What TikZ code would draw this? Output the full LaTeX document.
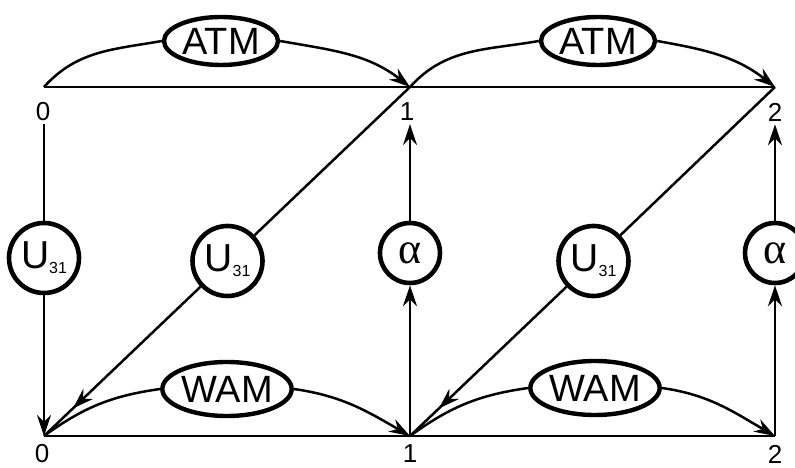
\documentclass[tikz,border=0pt]{standalone}
\usepackage{fontspec}
\setmainfont{Liberation Sans}
\newfontfamily\greekfont{Liberation Serif}
\usetikzlibrary{arrows.meta,decorations.markings,shapes.geometric}

\begin{document}
\begin{tikzpicture}[x=1pt,y=1pt,
  wire/.style={line width=2.5pt},
  head/.style={-{Stealth[length=21pt,width=14pt,inset=7pt]}},
  midhead/.style={postaction=decorate,decoration={markings,
      mark=at position -40pt with {\arrow{Stealth[length=21pt,width=14pt,inset=7pt]}}}},
  opnode/.style={circle,draw,line width=4.6pt,minimum size=70pt,inner sep=0pt,
      font=\fontsize{39}{39}\selectfont},
  alphanode/.style={circle,draw,line width=4.6pt,minimum size=60pt,inner sep=0pt,
      font=\greekfont\fontsize{44}{44}\selectfont},
  tag/.style={ellipse,draw,line width=4.4pt,inner sep=0pt,
      font=\fontsize{38}{38}\selectfont},
  num/.style={font=\fontsize{26}{26}\selectfont,inner sep=3pt}
]
\useasboundingbox (0,0) rectangle (795,468);

% grid corners
\coordinate (t0) at (44,381);
\coordinate (t1) at (410,381);
\coordinate (t2) at (775,381);
\coordinate (b0) at (44,32);
\coordinate (b1) at (410,32);
\coordinate (b2) at (775,32);

% corner indices
\node[num] (n0t) at (43,356) {0};
\node[num] (n1t) at (407,356) {1};
\node[num] (n2t) at (775,356) {2};
\node[num] (n0b) at (42,14) {0};
\node[num] (n1b) at (410,14) {1};
\node[num] (n2b) at (775,14) {2};

% operators
\newcommand{\usub}{U\raisebox{-5pt}{\fontsize{16}{16}\selectfont 31}}
\node[opnode] (u1) at (44,210) {\usub};
\node[opnode] (u2) at (227.5,207) {\usub};
\node[opnode] (u3) at (593.5,207) {\usub};
\node[alphanode] (a1) at (410,215) {α};
\node[alphanode] (a2) at (775,215) {α};

% labelled arcs
\node[tag,minimum width=114pt,minimum height=48pt] (atm1) at (221,427) {ATM};
\node[tag,minimum width=114pt,minimum height=48pt] (atm2) at (598,427) {ATM};
\node[tag,minimum width=116pt,minimum height=54pt] (wam1) at (227,79) {WAM};
\node[tag,minimum width=116pt,minimum height=54pt] (wam2) at (595,80) {WAM};

% horizontal rails
\draw[wire] (t0) -- (t2);
\draw[wire] (b0) -- (b2);

% left column
\draw[wire] (u1.north |- n0t.south) -- (u1.north);
\draw[wire,head] (u1.south) -- (b0);

% middle and right columns
\draw[wire,head] (b1) -- (a1.south);
\draw[wire,head] (a1.north) -- (a1.north |- n1t.south);
\draw[wire,head] (b2) -- (a2.south);
\draw[wire,head] (a2.north) -- (a2.north |- n2t.south);

% diagonals
\draw[wire] (t1) -- (u2);
\draw[wire,midhead] (u2) -- (b0);
\draw[wire] (t2) -- (u3);
\draw[wire,midhead] (u3) -- (b1);

% ATM arcs
\draw[wire] (t0) to[out=48,in=190] (atm1.west);
\draw[wire,head] (atm1.east) to[out=-10,in=142] (t1);
\draw[wire] (t1) to[out=48,in=190] (atm2.west);
\draw[wire,head] (atm2.east) to[out=-10,in=142] (t2);

% WAM arcs
\draw[wire] (b0) to[out=36,in=188] (wam1.west);
\draw[wire,head] (wam1.east) to[out=-8,in=150] (b1);
\draw[wire] (b1) to[out=36,in=188] (wam2.west);
\draw[wire,head] (wam2.east) to[out=-8,in=150] (b2);
\end{tikzpicture}
\end{document}
